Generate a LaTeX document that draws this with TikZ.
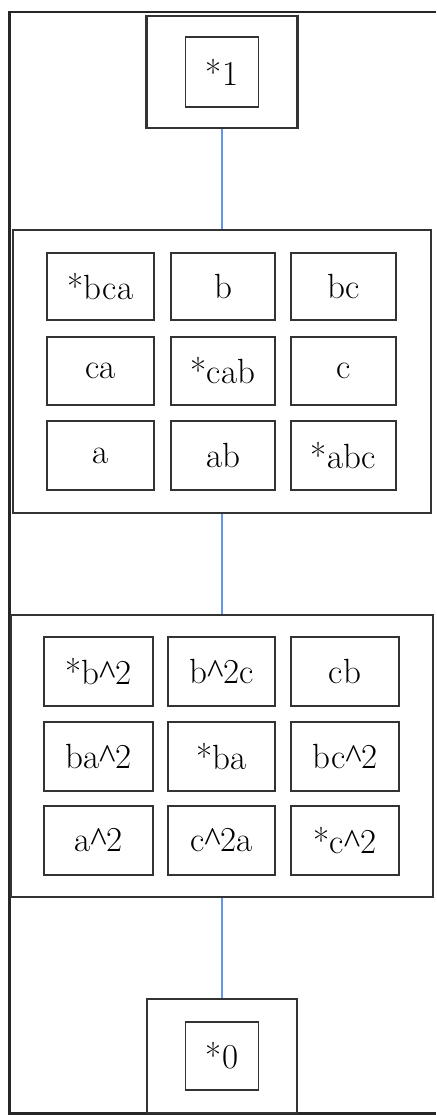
\documentclass[tikz,border=0pt]{standalone}
\usepackage{fontspec}
\newfontfamily\caretfont{Liberation Serif}
\newcommand{\crt}{{\caretfont\char"5E}}
\definecolor{edgeblue}{RGB}{100,149,237}
\begin{document}
\begin{tikzpicture}[x=1pt,y=-1pt,
  frame/.style={draw=black!85,line width=2.4pt},
  grp/.style={draw=black!80,line width=2.2pt,inner sep=0pt},
  cell/.style={draw=black!80,line width=1.9pt,inner sep=0pt,font=\fontsize{35}{40}\selectfont},
  conn/.style={draw=edgeblue,line width=1.4pt}]
\useasboundingbox (0,0) rectangle (436,1115);
\draw[frame] (436,12) -- (9.5,12) -- (9.5,1113.5) -- (436,1113.5);
% top
\node[grp,minimum width=151pt,minimum height=112pt] (top) at (222,72) {};
\node[cell,minimum width=73pt,minimum height=70pt] (t1) at (222,72) {*1};
% group 1
\node[grp,minimum width=418pt,minimum height=283pt] (g1) at (222,371.5) {};
\node[cell,minimum width=107pt,minimum height=67pt] (a11) at (100.5,286.5) {*bca};
\node[cell,minimum width=104pt,minimum height=67pt] (a12) at (223,286.5) {b};
\node[cell,minimum width=105pt,minimum height=67pt] (a13) at (343.5,286.5) {bc};
\node[cell,minimum width=107pt,minimum height=68pt] (a21) at (100.5,371) {ca};
\node[cell,minimum width=104pt,minimum height=68pt] (a22) at (223,371) {*cab};
\node[cell,minimum width=105pt,minimum height=68pt] (a23) at (343.5,371) {c};
\node[cell,minimum width=107pt,minimum height=69pt] (a31) at (100.5,455.5) {a};
\node[cell,minimum width=104pt,minimum height=69pt] (a32) at (223,455.5) {ab};
\node[cell,minimum width=105pt,minimum height=69pt] (a33) at (343.5,455.5) {*abc};
% group 2
\node[grp,minimum width=422pt,minimum height=282pt] (g2) at (222,756) {};
\node[cell,minimum width=109pt,minimum height=69pt] (b11) at (98.5,671.5) {*b\crt2};
\node[cell,minimum width=107pt,minimum height=69pt] (b12) at (221.5,671.5) {b\crt2c};
\node[cell,minimum width=108pt,minimum height=69pt] (b13) at (345,671.5) {cb};
\node[cell,minimum width=109pt,minimum height=69pt] (b21) at (98.5,756.5) {ba\crt2};
\node[cell,minimum width=107pt,minimum height=69pt] (b22) at (221.5,756.5) {*ba};
\node[cell,minimum width=108pt,minimum height=69pt] (b23) at (345,756.5) {bc\crt2};
\node[cell,minimum width=109pt,minimum height=69pt] (b31) at (98.5,840.5) {a\crt2};
\node[cell,minimum width=107pt,minimum height=69pt] (b32) at (221.5,840.5) {c\crt2a};
\node[cell,minimum width=108pt,minimum height=69pt] (b33) at (345,840.5) {*c\crt2};
% bottom
\node[grp,minimum width=150pt,minimum height=114pt] (bot) at (222,1056) {};
\node[cell,minimum width=73pt,minimum height=68pt] (z1) at (222,1056) {*0};
% connectors
\draw[conn] (top.south) -- (top.south |- g1.north);
\draw[conn] (g1.south) -- (g1.south |- g2.north);
\draw[conn] (g2.south) -- (g2.south |- bot.north);
\end{tikzpicture}
\end{document}
